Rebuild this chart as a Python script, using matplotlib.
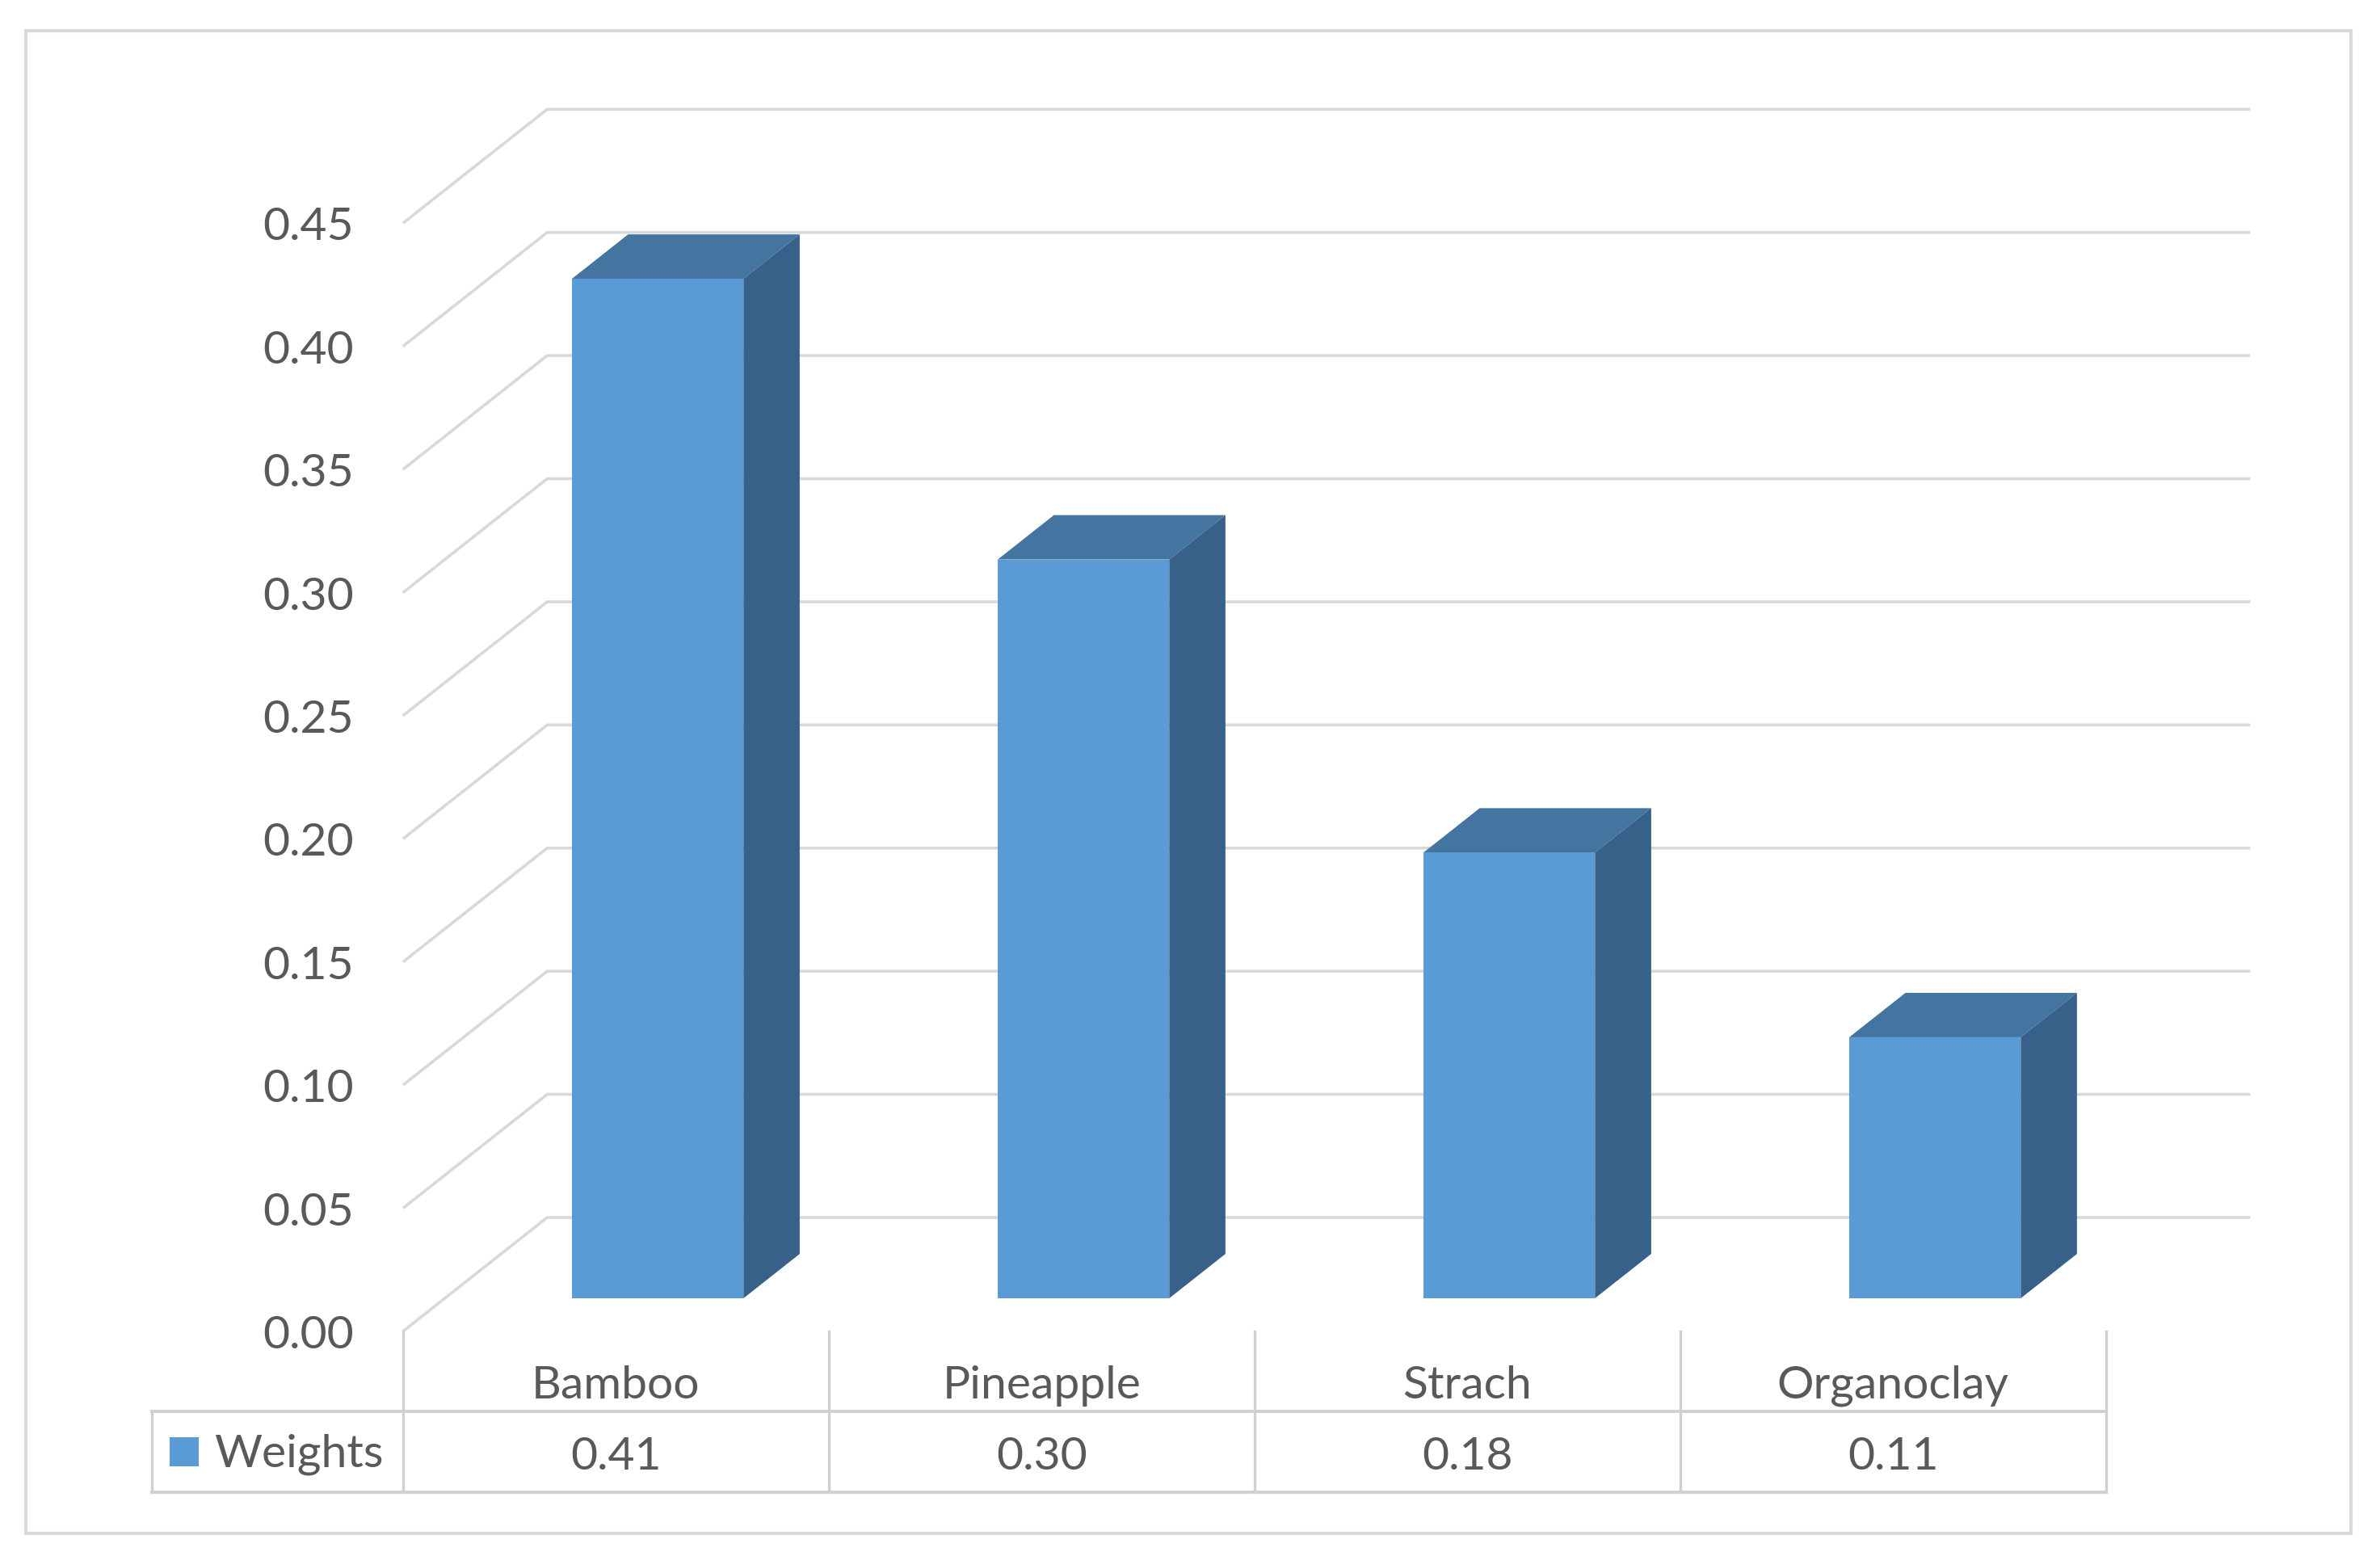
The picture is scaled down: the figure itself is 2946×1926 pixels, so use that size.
import matplotlib
matplotlib.use("Agg")
import matplotlib.pyplot as plt
from matplotlib.patches import Rectangle, Polygon

# ---- data ----
categories = ["Bamboo", "Pineapple", "Strach", "Organoclay"]
weights = [0.414, 0.300, 0.181, 0.106]
yticks = [0.00, 0.05, 0.10, 0.15, 0.20, 0.25, 0.30, 0.35, 0.40, 0.45]
series_name = "Weights"

# ---- style ----
FRONT = "#5B9BD5"
TOP = "#4474A0"
SIDE = "#376188"
GRID = "#D9D9D9"
TEXT = "#595959"
FS = 41
plt.rcParams['font.family'] = ['Lato', 'DejaVu Sans']

# ---- layout (reference grid of 1568 x 1025) ----
W, H = 1568.0, 1025.0
X_LEFT, X_RIGHT = 265.5, 1387.5      # front plane, category range -0.5..3.5
Y0, YTOP = 877.0, 147.0              # front plane, value 0 and 0.45
VTOP = 0.45
bx = (X_RIGHT - X_LEFT) / len(categories)
by = (Y0 - YTOP) / VTOP
DX, DY = 95.0, 75.0                  # depth offset in reference px
F1, F2 = 0.29, 0.68                  # bar front/back depth fraction
BAR_W = 113.0 / bx
TXT_DY = 3.0                         # text baseline nudge (px)


def px2x(px):
    return -0.5 + (px - X_LEFT) / bx


def py2v(py):
    return (Y0 - py) / by


ddx = DX / bx
ddy = DY / by

fig = plt.figure(figsize=(29.46, 19.26), dpi=100)
ax = fig.add_axes([0, 0, 1, 1])
ax.set_xlim(px2x(0), px2x(W))
ax.set_ylim(py2v(H), py2v(0))
ax.axis('off')

n = len(categories)
x_lo, x_hi = -0.5, n - 0.5

# outer border
ax.add_patch(Rectangle((px2x(17), py2v(1010)), px2x(1549) - px2x(17),
                       py2v(20) - py2v(1010), fill=False, edgecolor=GRID,
                       lw=3, zorder=1))

# back wall gridlines + side wall diagonals
for v in yticks:
    ax.plot([x_lo, x_lo + ddx, x_hi + ddx], [v, v + ddy, v + ddy],
            color=GRID, lw=2.6, zorder=2, solid_capstyle='butt')
    ax.text(px2x(233), v - TXT_DY / by, f"{v:.2f}", ha='right', va='center',
            fontsize=FS, color=TEXT)

# bars
for i, v in enumerate(weights):
    xl = i + F1 * ddx - BAR_W / 2
    xr = xl + BAR_W
    yb = F1 * ddy
    yt = v + F1 * ddy
    dd_x = (F2 - F1) * ddx
    dd_y = (F2 - F1) * ddy
    ax.add_patch(Polygon([(xl, yt), (xr, yt), (xr + dd_x, yt + dd_y),
                          (xl + dd_x, yt + dd_y)], closed=True,
                         facecolor=TOP, edgecolor='none', zorder=3))
    ax.add_patch(Polygon([(xr, yb), (xr, yt), (xr + dd_x, yt + dd_y),
                          (xr + dd_x, yb + dd_y)], closed=True,
                         facecolor=SIDE, edgecolor='none', zorder=3))
    ax.add_patch(Rectangle((xl, yb), BAR_W, v, facecolor=FRONT,
                           edgecolor='none', zorder=4))

# data table
TAB_LINE = "#D0D0D0"
row1, row2 = py2v(930), py2v(983)
for k in range(n + 1):
    ax.plot([x_lo + k, x_lo + k], [0, row2], color=TAB_LINE, lw=2.4, zorder=2)
ax.plot([px2x(100), x_hi], [row1, row1], color=TAB_LINE, lw=2.8, zorder=2)
ax.plot([px2x(100), x_hi], [row2, row2], color=TAB_LINE, lw=2.8, zorder=2)
ax.plot([px2x(100), px2x(100)], [row1, row2], color=TAB_LINE, lw=2.4, zorder=2)

for i, (c, v) in enumerate(zip(categories, weights)):
    ax.text(i, py2v(910 + TXT_DY), c, ha='center', va='center',
            fontsize=FS, color=TEXT)
    ax.text(i, py2v(957 + TXT_DY), f"{v:.2f}", ha='center', va='center',
            fontsize=FS, color=TEXT)

ax.add_patch(Rectangle((px2x(112), py2v(966)), px2x(131) - px2x(112),
                       py2v(947) - py2v(966), facecolor=FRONT,
                       edgecolor='none', zorder=4))
ax.text(px2x(141), py2v(955 + TXT_DY), series_name, ha='left', va='center',
        fontsize=FS, color=TEXT)

fig.savefig("out.png", dpi=100, facecolor='white')
